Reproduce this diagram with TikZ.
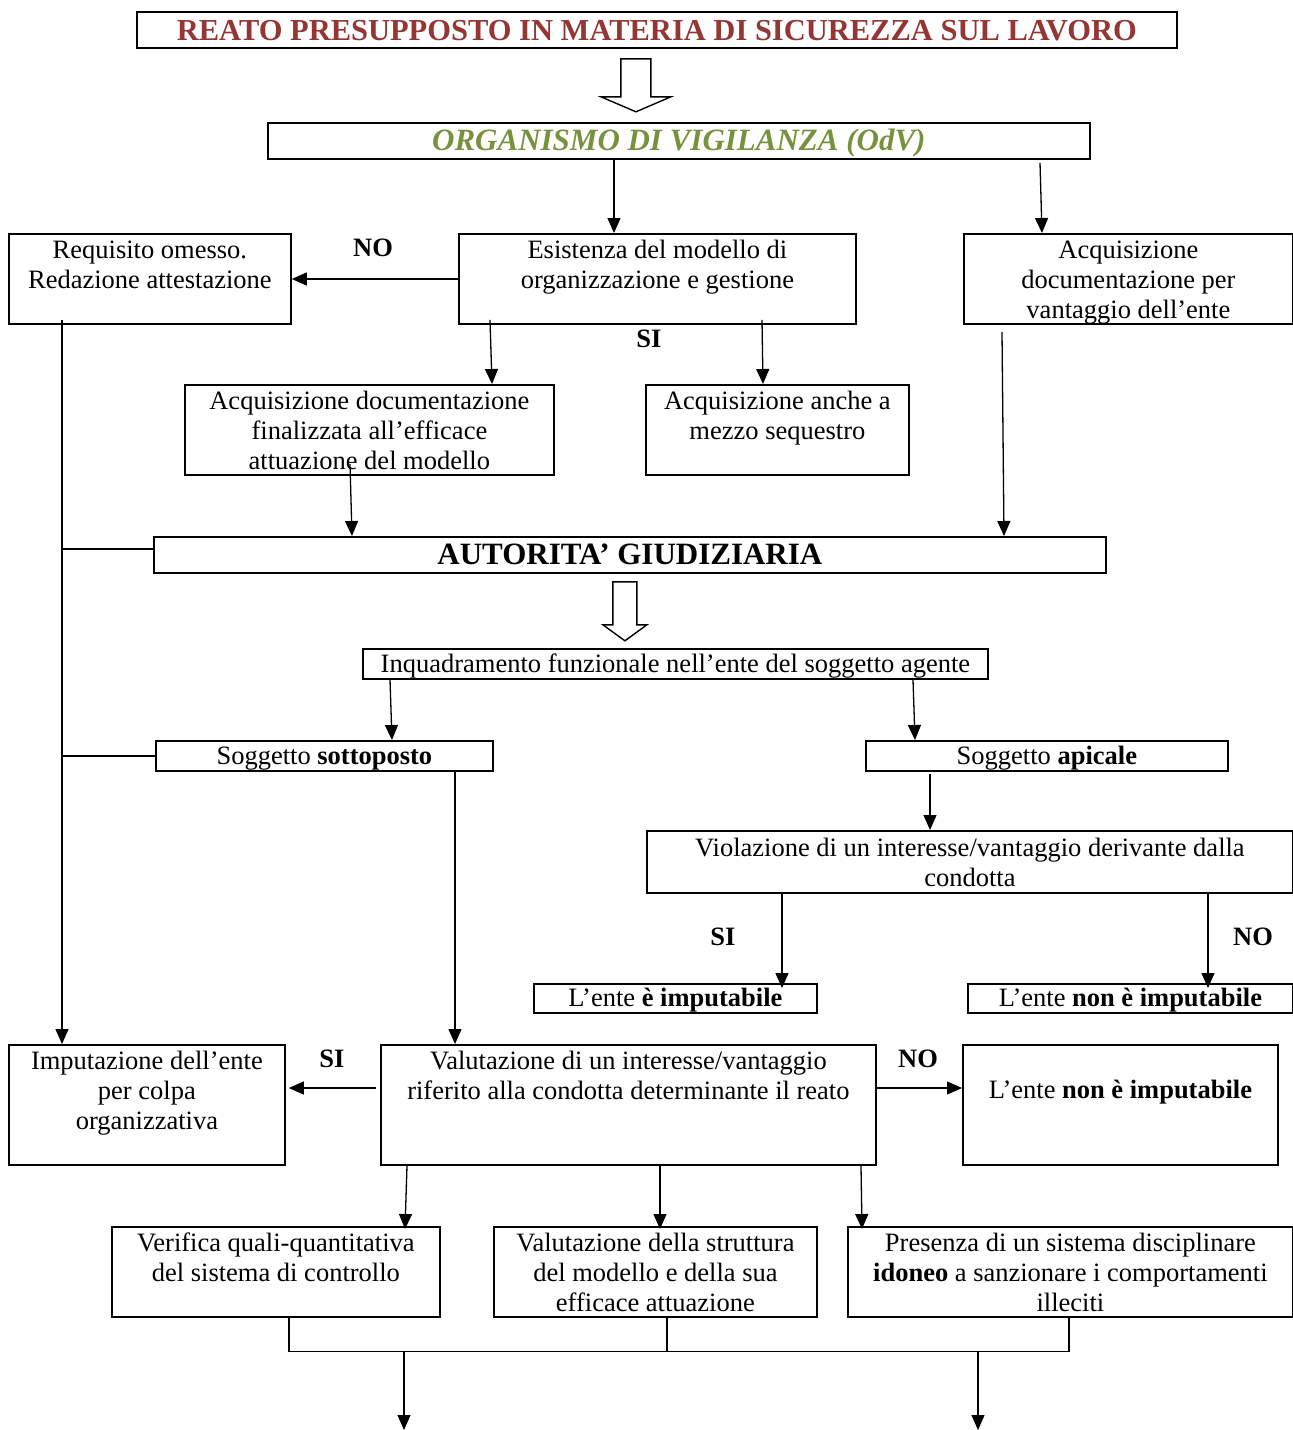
\documentclass[tikz,border=0pt]{standalone}
\usepackage{fontspec}
\setmainfont{Liberation Serif}
\usetikzlibrary{arrows.meta,calc}
\definecolor{titlered}{HTML}{943634}
\definecolor{odvgreen}{HTML}{76923C}
\tikzset{
  box/.style={draw, line width=1.8pt, inner sep=0pt, anchor=north west},
  conn/.style={line width=1.3pt, -{Triangle[length=15pt,width=13pt]}},
  plainline/.style={line width=1.3pt},
  lbl/.style={font=\bfseries\fontsize{26.5}{30}\selectfont, inner sep=0pt},
  hollow/.style={draw, line width=1.4pt, fill=white, line join=miter}
}
% name, x0, y0, x1, y1, first baseline offset, text
\newcommand\bx[7]{\node[box] (#1) at (#2,#3) {\parbox[t][\dimexpr #5pt-#3pt\relax][t]{\dimexpr #4pt-#2pt\relax}{\centering\fontsize{26.5}{30}\selectfont\rule{0pt}{#6pt}#7}};}
\begin{document}
\begin{tikzpicture}[x=1pt,y=-1pt]
\useasboundingbox (0,0) rectangle (1293,1430);

% boxes
\bx{title}{136}{11}{1176}{47}{29}{\fontsize{30.5}{30}\selectfont\bfseries\color{titlered}REATO PRESUPPOSTO IN MATERIA DI SICUREZZA SUL LAVORO}
\bx{odv}{267}{122}{1089}{158}{28}{\fontsize{31}{30}\selectfont\bfseries\itshape\color{odvgreen}ORGANISMO DI VIGILANZA (OdV)}
\bx{req}{8}{233}{290}{323}{25}{Requisito omesso.\\Redazione attestazione}
\bx{esist}{458}{233}{855}{323}{25}{Esistenza del modello di\\organizzazione e gestione}
\bx{acqv}{963}{233}{1292}{323}{25}{Acquisizione\\documentazione per\\vantaggio dell’ente}
\bx{acqf}{184}{384}{553}{474}{25}{Acquisizione documentazione\\finalizzata all’efficace\\attuazione del modello}
\bx{seq}{645}{384}{908}{474}{25}{Acquisizione anche a\\mezzo sequestro}
\bx{ag}{153}{536}{1105}{572}{28}{\fontsize{31}{30}\selectfont\bfseries AUTORITA’ GIUDIZIARIA}
\bx{inq}{362}{648}{987}{678}{24}{Inquadramento funzionale nell’ente del soggetto agente}
\bx{sott}{155}{740}{492}{770}{24}{Soggetto \textbf{sottoposto}}
\bx{apic}{865}{740}{1227}{770}{24}{Soggetto \textbf{apicale}}
\bx{viol}{646}{830}{1292}{892}{26}{Violazione di un interesse/vantaggio derivante dalla\\condotta}
\bx{ei}{533}{983}{816}{1012}{23}{L’ente \textbf{è imputabile}}
\bx{eni}{967}{983}{1292}{1012}{23}{L’ente \textbf{non è imputabile}}
\bx{imput}{8}{1044}{284}{1164}{25}{Imputazione dell’ente\\per colpa\\organizzativa}
\bx{val}{380}{1044}{875}{1164}{25}{Valutazione di un interesse/vantaggio\\riferito alla condotta determinante il reato}
\bx{enib}{962}{1044}{1277}{1164}{54}{L’ente \textbf{non è imputabile}}
\bx{ver}{111}{1226}{439}{1316}{25}{Verifica quali-quantitativa\\del sistema di controllo}
\bx{str}{493}{1226}{816}{1316}{25}{Valutazione della struttura\\del modello e della sua\\efficace attuazione}
\bx{pres}{847}{1226}{1292}{1316}{25}{Presenza di un sistema disciplinare\\\textbf{idoneo} a sanzionare i comportamenti\\illeciti}

% labels
\node[lbl] (no1) at (373,248) {NO};
\node[lbl] (si1) at (649,339) {SI};
\node[lbl] (si2) at (723,937) {SI};
\node[lbl] (no2) at (1253,937) {NO};
\node[lbl] (si3) at (332,1059) {SI};
\node[lbl] (no3) at (918,1059) {NO};

% hollow arrows
\draw[hollow] ($(title.south)+(-36,10)$) -- ++(0,38) -- ++(-20,0) -- ++(35,15) -- ++(35,-15) -- ++(-20,0) -- ++(0,-38) -- cycle;
\draw[hollow] ($(ag.south)+(-17,8)$) -- ++(0,43) -- ++(-10,0) -- ++(22,16) -- ++(22,-16) -- ++(-10,0) -- ++(0,-43) -- cycle;

% connectors
\draw[conn] ([xshift=347pt]odv.south west) -- ([xshift=156pt]esist.north west);
\draw[conn] ([xshift=773pt,yshift=-3pt]odv.south west) -- ([xshift=79pt]acqv.north west);
\draw[conn] ([yshift=-46pt]esist.north west) -- ([yshift=-46pt]req.north east);
\draw[conn] ([xshift=32pt,yshift=5pt]esist.south west) -- ([xshift=308pt]acqf.north west);
\draw[conn] ([xshift=304pt,yshift=5pt]esist.south west) -- ([xshift=118pt]seq.north west);
\draw[conn] ([xshift=166pt,yshift=12pt]acqf.south west) -- ([xshift=199pt]ag.north west);
\draw[conn] ([xshift=39pt,yshift=-7pt]acqv.south west) -- ([xshift=851pt]ag.north west);

\coordinate (vl) at ([xshift=54pt,yshift=5pt]req.south west);
\draw[conn] (vl) -- ([xshift=54pt]imput.north west);
\draw[plainline] ([yshift=6pt]ag.west -| vl) -- ([yshift=6pt]ag.west);
\draw[plainline] (sott.west -| vl) -- (sott.west);

\draw[conn] ([xshift=28pt]inq.south west) -- ([xshift=237pt]sott.north west);
\draw[conn] ([xshift=551pt]inq.south west) -- ([xshift=50pt]apic.north west);
\draw[conn] ([xshift=65pt,yshift=-2pt]apic.south west) -- ([xshift=284pt]viol.north west);
\draw[conn] ([xshift=136pt]viol.south west) -- ([xshift=249pt,yshift=-5pt]ei.north west);
\draw[conn] ([xshift=562pt]viol.south west) -- ([xshift=241pt,yshift=-5pt]eni.north west);
\draw[conn] ([xshift=300pt]sott.south west) -- ([xshift=75pt]val.north west);

\draw[conn] ([xshift=-4pt,yshift=-44pt]val.north west) -- ([xshift=3pt,yshift=-44pt]imput.north east);
\draw[conn] ([yshift=-44pt]val.north east) -- ([yshift=-44pt]enib.north west);

\draw[conn] ([xshift=27pt]val.south west) -- ([xshift=294pt,yshift=-3pt]ver.north west);
\draw[conn] ([xshift=280pt]val.south west) -- ([xshift=167pt,yshift=-3pt]str.north west);
\draw[conn] ([xshift=481pt]val.south west) -- ([xshift=15pt,yshift=-3pt]pres.north west);

\coordinate (jl) at ([xshift=178pt,yshift=-34pt]ver.south west);
\coordinate (jr) at ([xshift=222pt,yshift=-34pt]pres.south west);
\draw[plainline] ([xshift=178pt]ver.south west) -- (jl) -- (jr) -- ([xshift=222pt]pres.south west);
\draw[plainline] ([xshift=174pt]str.south west) -- ([xshift=174pt]str.south west |- jl);
\coordinate (outa) at (404,1430);
\coordinate (outb) at (978,1430);
\draw[conn] (outa |- jl) -- (outa);
\draw[conn] (outb |- jl) -- (outb);
\end{tikzpicture}
\end{document}
